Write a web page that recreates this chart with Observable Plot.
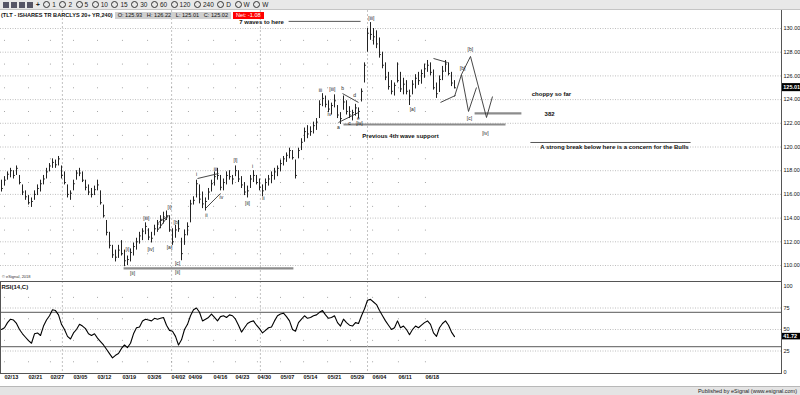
<!DOCTYPE html>
<html><head><meta charset="utf-8">
<script src="https://cdn.jsdelivr.net/npm/d3@7"></script>
<script src="https://cdn.jsdelivr.net/npm/@observablehq/plot@0.6"></script>
<style>
html,body{margin:0;padding:0;background:#fff;}
#wrap{position:relative;width:800px;height:395px;overflow:hidden;background:#fff;font-family:"Liberation Sans",Arial,sans-serif;}
#toolbar{position:absolute;left:0;top:0;width:800px;height:9px;background:#e8e8e8;border-bottom:1px solid #c4c4c4;font-size:6.5px;line-height:9px;color:#222;white-space:nowrap;}
#toolbar .ic{display:inline-block;width:6px;height:6px;background:#556;margin:1.5px 1px 0 1px;vertical-align:top;}
#toolbar .it{display:inline-block;margin-left:3.5px;}
#toolbar .c{display:inline-block;width:5px;height:5px;border:0.8px solid #333;border-radius:50%;vertical-align:-0.5px;margin-right:2px;}
#title{position:absolute;left:1px;top:11px;height:8px;font-size:5.6px;line-height:8px;font-weight:bold;color:#111;white-space:nowrap;}
#title .box{display:inline-block;background:#cfcfcf;padding:0 3px;margin-left:2px;font-weight:normal;height:7px;line-height:7px;vertical-align:top;margin-top:0.5px}
#title .red{background:#f00;color:#fff;}
#price{position:absolute;left:0;top:10px;}
#rsi{position:absolute;left:0;top:281px;}
#footer{position:absolute;left:0;top:386px;width:800px;height:9px;background:#e4e4e4;border-top:1px solid #b8b8b8;font-size:5.5px;line-height:9px;text-align:right;color:#222;}
#footer span{margin-right:3px;}
#copy{position:absolute;left:2px;top:274px;font-size:4px;color:#333;}
</style>
</head><body>
<div id="wrap">
  <div id="toolbar"></div>
  <div id="price"></div>
  <div id="rsi"></div>
  <div id="title">(TLT - ISHARES TR BARCLYS 20+ YR,240)<span class="box">O: 125.93 &nbsp; H: 126.22 &nbsp; L: 125.01 &nbsp; C: 125.02</span><span class="box red">Net: -1.08</span></div>
  <div id="copy">© eSignal, 2018</div>
  <div id="footer"><span>Published by eSignal (www.esignal.com)</span></div>
</div>
<script>
// ---------- data ----------
const intervals = ["1","2","5","10","15","30","60","120","240","D","W","W"];
const dateLabels = ["02/13","02/21","02/27","03/05","03/12","03/19","03/26","04/02","04/09","04/16","04/23","04/30","05/07","05/14","05/21","05/29","06/04","06/11","06/18"];
const datePos = [1,9,16.3,24,32,40.3,48.7,56.7,62.3,70.7,78,85.3,93,100.7,108.7,116.3,123.7,132.3,141.3];
const monthPos = [20.3,56.7,86.3,122];
const priceTicks = [110,112,114,116,118,120,122,124,126,128,130];
const rsiTicks = [0,25,50,75,100];
const rsiBands = [70,30];

const highs = [117.2,117.5,117.9,118.2,118.0,118.4,117.6,116.8,116.3,115.9,
115.7,116.3,116.8,117.2,117.6,118.2,118.6,119.0,118.9,119.2,
118.4,117.9,116.8,116.3,117.2,118.0,118.2,117.9,117.2,116.8,
116.5,116.7,117.2,116.3,115.1,113.8,112.8,111.7,111.3,111.7,
112.1,111.3,110.8,111.4,111.9,112.3,112.8,113.1,113.6,113.1,
112.8,113.4,113.8,114.2,114.5,114.6,114.2,113.1,113.4,113.8,
112.3,113.0,113.6,115.5,115.8,117.2,116.8,116.2,115.7,116.5,
117.2,117.9,118.2,117.6,117.3,117.9,118.0,117.6,118.4,118.0,
117.5,117.0,116.7,117.6,118.0,117.6,117.3,116.8,117.3,117.6,
117.9,118.2,118.4,118.9,119.2,119.5,119.9,119.7,118.9,119.9,
120.7,121.6,121.8,121.7,122.1,122.4,123.9,124.5,124.3,123.9,
123.7,124.4,123.5,122.9,124.3,123.9,123.4,123.1,123.6,123.3,
124.9,127.1,130.0,130.5,130.0,129.8,129.2,128.0,127.1,126.3,
125.6,125.4,127.1,126.3,125.8,125.6,124.8,125.6,126.1,126.3,
126.5,127.0,127.3,127.1,126.5,125.4,126.0,126.8,127.3,127.1,
126.3,125.6];
const lows = [116.2,116.7,117.2,117.4,117.3,117.6,116.8,115.9,115.5,115.1,
114.9,115.5,115.9,116.2,116.8,117.3,117.9,118.2,118.2,118.4,
117.3,116.8,115.7,115.5,116.3,117.2,117.5,117.0,116.3,115.9,
115.7,115.9,116.3,115.1,114.0,112.5,111.4,110.6,110.3,110.6,
110.8,109.9,110.0,110.3,110.8,111.3,111.8,112.1,112.6,112.1,
111.9,112.5,112.8,113.1,113.5,113.8,112.8,111.7,112.3,112.8,
110.4,111.7,112.5,113.6,115.1,115.7,115.2,114.8,114.6,115.5,
116.2,116.7,117.2,116.3,116.3,116.8,117.2,116.8,117.5,117.0,
116.5,115.9,115.7,116.5,117.0,116.8,116.3,115.8,116.3,116.7,
116.9,117.2,117.5,117.9,118.4,118.7,119.0,118.9,117.3,119.0,
119.7,120.4,120.7,120.9,121.1,121.4,122.4,123.4,123.3,122.9,
122.7,123.3,122.4,121.9,123.1,122.7,122.4,122.2,122.6,122.4,
123.8,125.4,128.0,129.0,128.6,128.3,127.5,126.6,125.6,124.8,
124.4,124.3,125.4,124.6,124.4,124.4,123.5,124.4,124.9,125.2,
125.3,125.8,126.3,126.0,124.8,124.1,124.6,125.6,126.3,126.0,
125.1,124.9];
const closes = [116.5,117.2,117.7,118.0,117.6,118.2,117.0,116.2,115.8,115.3,
115.4,116.0,116.5,116.9,117.3,117.9,118.4,118.7,118.5,119.0,
117.6,117.0,116.0,116.1,116.9,117.8,117.8,117.2,116.6,116.2,
116.0,116.4,116.8,115.3,114.2,112.8,111.7,110.9,110.7,111.3,
111.0,110.4,110.5,111.1,111.6,112.0,112.5,112.9,113.3,112.4,
112.3,113.1,113.5,113.9,114.1,114.2,113.0,112.0,113.0,113.1,
111.0,112.6,113.3,115.2,115.5,116.9,115.6,115.2,115.4,116.2,
116.9,117.5,117.6,116.6,117.0,117.6,117.5,117.3,118.0,117.3,
116.8,116.2,116.3,117.3,117.6,117.0,116.6,116.3,117.0,117.3,
117.6,117.9,118.2,118.6,119.0,119.3,119.7,119.1,117.6,119.7,
120.4,121.3,121.1,121.3,121.8,122.1,123.6,124.1,123.6,123.2,
123.5,123.9,122.7,122.4,123.8,123.0,122.7,122.9,123.3,123.0,
124.7,126.9,129.6,129.5,129.3,128.7,127.8,126.9,125.9,125.1,
124.7,125.2,125.6,124.9,125.3,124.7,124.3,125.3,125.8,125.6,
126.2,126.6,126.9,126.3,125.0,124.5,125.7,126.4,127.0,126.2,
125.4,125.0];
const rsiValues = [50,52,58,62,61,57,50,45,41,37,
34,45,46,43,54,61,66,73,72,67,
56,50,42,39,46,50,56,54,51,45,
43,45,40,36,32,27,22,17,20,22,
28,32,29,34,45,52,53,60,62,61,
60,63,62,63,64,55,49,48,42,32,
38,50,56,66,73,75,70,60,62,64,
68,64,60,65,66,64,67,66,62,55,
47,52,57,59,60,55,51,46,49,52,
53,60,66,68,69,65,60,50,48,58,
62,66,63,64,66,67,70,72,67,63,
64,66,58,54,62,58,55,54,58,57,
66,74,84,85,82,79,72,66,60,55,
50,52,60,52,54,50,44,50,54,52,
55,58,60,56,46,42,52,57,60,55,
47,41.72];
const lastPrice = 125.01;
const lastRsi = 41.72;

// wave labels: text, bar position, price
const waveText = ["[i]","[ii]","[iii]","[iv]","[i]","[a]","[b]","[c]","[ii]","i","iii","ii","iv","[i]","[ii]","i","ii","iii","[iii]","iv","a","b","c","d","e","[iv]","[iii]","[a]","[b]","[b]","[c]","[iv]"];
const waveX = [42,43.7,48.3,49.7,56,56,58.3,58.7,58.7,65,71.3,68.3,73.3,78,82,83.7,87.3,106.3,110.3,109.3,112.3,113.7,116,117.7,119,119.3,123.3,137,153.7,156.3,156,161.3];
const waveY = [111.35,109.33,113.97,111.35,114.89,111.52,113.63,110.17,109.45,117.68,118.1,114.22,115.74,118.86,115.23,118.35,115.65,124.77,124.85,122.74,121.65,124.94,121.98,124.35,122.41,121.98,130.84,123.16,126.62,128.23,122.41,121.14];

// trend lines & projection: [x1,y1,x2,y2]
const trendLines = [
  [52,112.95,55.67,114.22],[52.33,113.63,55.33,114.13],
  [65.33,117.34,72.33,117.76],[68,114.81,73,116.08],
  [113.67,124.51,119,123.76],[112.33,122.07,119,122.91],
  [144,127.47,148.67,127.13],[146.33,123.76,151.33,124.35]
];
const projection = [
  [151,124.26,153.33,126.12],[153.33,126.12,155.67,123.0],[155.67,123.0,158.33,125.02],
  [153.33,126.12,156.33,127.64],[156.33,127.64,161.67,122.49],[161.67,122.49,163.67,124.26]
];
// horizontal level lines: x1, x2, price, kind
const levelX1 = [95.7,114,157.7,176.3,40.7];
const levelX2 = [119.7,168,173.3,229.7,97.3];
const levelY = [130.6,121.9,122.83,120.38,109.75];
const levelHeavy = [false,true,true,false,true];

const noteText = ["7 waves to here","Previous 4th wave support","choppy so far","382","A strong break below here is a concern for the Bulls"];
const noteX = [86.7,133,183.3,182.7,204.3];
const noteY = [130.5,120.89,124.5,122.74,119.96];

// ---------- toolbar ----------
const tb = document.getElementById("toolbar");
tb.innerHTML = '<span style="margin-left:2px"></span>' + '<span class="ic"></span>'.repeat(4) +
  '<span class="it" style="margin-left:2px;font-weight:bold">+</span>' +
  intervals.map(t => `<span class="it"><span class="c"></span>${t}</span>`).join("");

// ---------- price panel ----------
const bars = highs.map((h, i) => ({i, high: h, low: lows[i], close: closes[i]}));
const oddPrices = d3.range(111, 130, 2);
const gridDots = d3.cross(datePos, oddPrices).map(([x, y]) => ({x, y}));
const waves = waveText.map((t, k) => ({t, x: waveX[k], y: waveY[k]}));
const levels = levelY.map((y, k) => ({x1: levelX1[k], x2: levelX2[k], y, heavy: levelHeavy[k]}));
const notes = noteText.map((t, k) => ({t, x: noteX[k], y: noteY[k]}));
const segs = trendLines.concat(projection).map(([x1,y1,x2,y2]) => ({x1,y1,x2,y2}));
const labelMap = new Map(datePos.map((p, k) => [p, dateLabels[k]]));
const st = {fontFamily: "Liberation Sans, Arial, sans-serif", fontSize: "6px", background: "transparent", overflow: "visible", color: "#111"};

const priceChart = Plot.plot({
  width: 800, height: 271, marginLeft: 0, marginRight: 19, marginTop: 0, marginBottom: 0,
  style: st,
  x: {domain: [-1/3, 260], axis: null},
  y: {domain: [110, 130], range: [255, 18], axis: null},
  marks: [
    Plot.ruleY(priceTicks, {stroke: "#a4a4a4", strokeWidth: 0.7, strokeDasharray: "1,1.5"}),
    Plot.ruleX(monthPos, {stroke: "#b4b4b4", strokeWidth: 0.8, strokeDasharray: "2,2"}),
    Plot.dot(gridDots, {x: "x", y: "y", r: 0.5, fill: "#8a8a8a", stroke: null}),
    Plot.link(levels.filter(d => d.heavy), {x1: "x1", x2: "x2", y1: "y", y2: "y", stroke: "#8c8c8c", strokeWidth: 2.2}),
    Plot.link(levels.filter(d => !d.heavy), {x1: "x1", x2: "x2", y1: "y", y2: "y", stroke: "#444", strokeWidth: 0.9}),
    Plot.ruleX(bars, {x: "i", y1: "low", y2: "high", stroke: "#222", strokeWidth: 1}),
    Plot.link(bars, {x1: "i", x2: d => d.i + 0.45, y1: "close", y2: "close", stroke: "#222", strokeWidth: 1}),
    Plot.link(segs, {x1: "x1", y1: "y1", x2: "x2", y2: "y2", stroke: "#333", strokeWidth: 0.9}),
    Plot.text(waves, {x: "x", y: "y", text: "t", fontSize: 5, fill: "#222"}),
    Plot.text(notes, {x: "x", y: "y", text: "t", fontSize: 6, fontWeight: "bold", fill: "#111"}),
    Plot.axisY(priceTicks, {anchor: "right", tickSize: 0, tickPadding: 2, tickFormat: d => d.toFixed(2), fontSize: 5.5, label: null}),
    Plot.rect([lastPrice], {x1: 260.3, x2: 266.7, y1: d => d + 0.34, y2: d => d - 0.34, fill: "#000"}),
    Plot.text([lastPrice], {x: 260.6, y: d => d, text: d => d.toFixed(2), fill: "#fff", textAnchor: "start", fontSize: 5.5, fontWeight: "bold"}),
    Plot.ruleX([260], {stroke: "#555", strokeWidth: 1})
  ]
});
document.getElementById("price").append(priceChart);

// ---------- RSI panel ----------
const rsiData = rsiValues.map((v, i) => ({i, v}));
const rsiDots = d3.cross(datePos, [87.5, 62.5, 37.5, 12.5]).map(([x, y]) => ({x, y}));
const rsiChart = Plot.plot({
  width: 800, height: 104, marginLeft: 0, marginRight: 19, marginTop: 0, marginBottom: 12,
  style: st,
  x: {domain: [-1/3, 260], axis: null},
  y: {domain: [0, 100], range: [91, 5], axis: null},
  marks: [
    Plot.ruleY([75, 50, 25], {stroke: "#a4a4a4", strokeWidth: 0.7, strokeDasharray: "1,1.5"}),
    Plot.ruleY(rsiBands, {stroke: "#7a7a7a", strokeWidth: 1.2}),
    Plot.ruleX(monthPos, {stroke: "#b4b4b4", strokeWidth: 0.8, strokeDasharray: "2,2"}),
    Plot.dot(rsiDots, {x: "x", y: "y", r: 0.5, fill: "#8a8a8a", stroke: null}),
    Plot.line(rsiData, {x: "i", y: "v", stroke: "#000", strokeWidth: 1.1}),
    Plot.axisY(rsiTicks, {anchor: "right", tickSize: 0, tickPadding: 2, fontSize: 5.5, label: null}),
    Plot.axisX(datePos, {anchor: "bottom", tickSize: 0, tickPadding: 2, tickFormat: d => labelMap.get(d), textAnchor: "start", fontSize: 5.5, fontWeight: "bold", label: null}),
    Plot.text(["RSI(14,C)"], {frameAnchor: "top-left", dx: 1, dy: 3, fontSize: 6, fontWeight: "bold"}),
    Plot.rect([lastRsi], {x1: 260.3, x2: 266.7, y1: d => d + 3.8, y2: d => d - 3.8, fill: "#000"}),
    Plot.text([lastRsi], {x: 260.6, y: d => d, text: d => d.toFixed(2), fill: "#fff", textAnchor: "start", fontSize: 5.5, fontWeight: "bold"}),
    Plot.frame({stroke: "#555", strokeWidth: 1})
  ]
});
document.getElementById("rsi").append(rsiChart);
</script>
</body></html>
